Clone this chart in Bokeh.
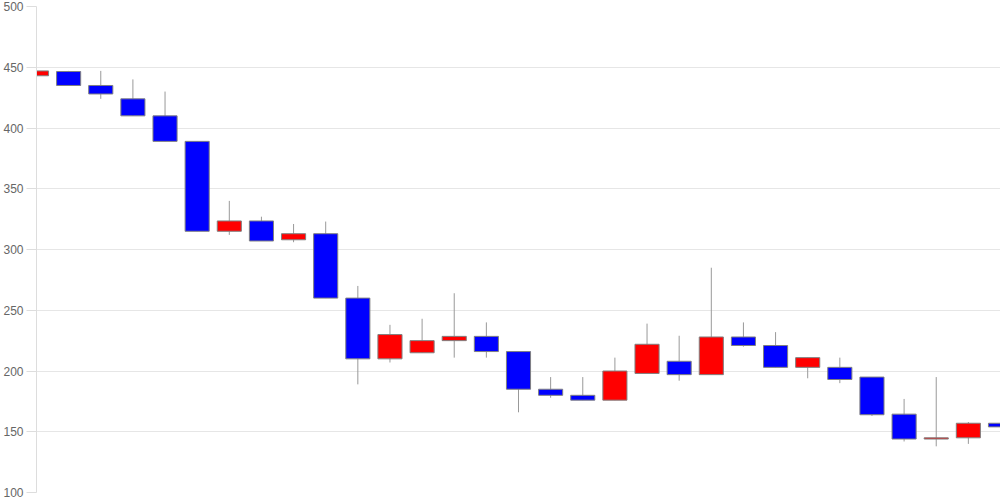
from bokeh.plotting import figure
from bokeh.models import ColumnDataSource, Range1d, FixedTicker
from bokeh.embed import file_html
from bokeh.resources import INLINE

# Data (candle index 0..30)
opens = [443, 446.5, 435, 424, 410, 389, 315, 323.5, 308, 313, 260, 210, 215, 225, 228.5,
         216, 185, 180, 176, 198, 208, 197, 228, 221, 203, 203, 195, 164.5, 144, 145, 157]
closes = [447, 435, 428, 410, 389, 315, 323.5, 307, 313, 260, 210, 230, 225, 228.5, 216,
          185, 180, 176, 200, 222, 197, 228, 221, 203, 211, 193, 164, 144, 145, 157, 154]
highs = [454, 447, 447, 440, 430, 389, 340, 327, 321, 323, 270, 238, 243, 264, 240,
         216, 195, 195, 211, 239, 229, 285, 240, 232, 211, 211, 195, 177, 195, 158, 175]
lows = [440, 435, 424, 410, 389, 315, 312, 307, 306, 260, 189, 207, 215, 211, 211,
        166, 178, 176, 176, 198, 192, 197, 220, 203, 194, 190, 163, 142, 138, 140, 150]
y_ticks = [100, 150, 200, 250, 300, 350, 400, 450, 500]

UP_COLOR = "#ff0000"
DOWN_COLOR = "#0000ff"

idx = list(range(len(opens)))
tops = [max(o, c) for o, c in zip(opens, closes)]
bottoms = [min(o, c) for o, c in zip(opens, closes)]
colors = [UP_COLOR if c >= o else DOWN_COLOR for o, c in zip(opens, closes)]

src = ColumnDataSource(dict(x=idx, top=tops, bottom=bottoms, high=highs, low=lows, color=colors))

p = figure(width=1000, height=500, output_backend="svg", toolbar_location=None,
           x_range=Range1d(0, 30), y_range=Range1d(100, 500),
           min_border_left=0, min_border_right=0, min_border_top=6, min_border_bottom=8)

p.segment(x0="x", y0="high", x1="x", y1="low", source=src, line_color="#999999", line_width=1)
p.vbar(x="x", width=0.75, top="top", bottom="bottom", source=src,
       fill_color="color", line_color="#808080", line_width=1)

p.xaxis.visible = False
p.xgrid.visible = False
p.outline_line_color = None

p.yaxis.ticker = FixedTicker(ticks=y_ticks)
p.yaxis.minor_tick_line_color = None
p.yaxis.major_tick_in = 0
p.yaxis.major_tick_out = 10
p.yaxis.major_tick_line_color = "#dddddd"
p.yaxis.axis_line_color = "#dddddd"
p.yaxis.major_label_standoff = 3
p.yaxis.major_label_text_color = "#666666"
p.yaxis.major_label_text_font = "Liberation Sans"
p.yaxis.major_label_text_font_size = "12px"
p.ygrid.grid_line_color = "#e6e6e6"

open("out.html", "w").write(file_html(p, INLINE))
